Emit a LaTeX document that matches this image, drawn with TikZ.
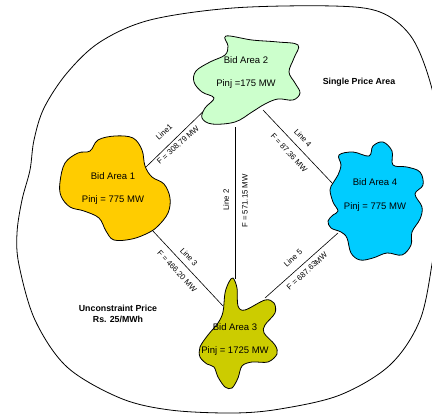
\documentclass[tikz,border=0pt]{standalone}
\usepackage{fontspec}
\setmainfont{Liberation Sans}
\begin{document}
\begin{tikzpicture}[x=1pt,y=-1pt,
  areashape/.style={draw=black,line width=0.8pt,line join=round},
  arealabel/.style={align=center,font=\fontsize{9.5}{11.5}\selectfont},
  tieline/.style={draw=black,line width=0.6pt},
  flowlabel/.style={font=\fontsize{7.8}{9}\selectfont,inner sep=0pt},
  note/.style={font=\bfseries\fontsize{8.8}{11}\selectfont,align=center}]
\clip (0,0) rectangle (432,415);
\fill[white] (0,0) rectangle (432,415);

% boundary of the single price area
\draw[line width=0.8pt] plot[smooth cycle,tension=0.55] coordinates {
  (233,8) (333,6) (380,12) (410,35) (428,75) (440,130) (441,200)
  (433,258) (420,320) (390,365) (340,395) (280,409) (233,413)
  (170,410) (120,398) (67,367) (35,320) (19,265) (17,233) (22,200)
  (30,170) (34,140) (44,108) (67,73) (100,42) (150,20)};

% line end points
\coordinate (l1a) at (146,167);
\coordinate (l1b) at (214,101);
\coordinate (l2a) at (235,127);
\coordinate (l2b) at (235,279);
\coordinate (l3a) at (152,230);
\coordinate (l3b) at (223,306);
\coordinate (l4a) at (263,110);
\coordinate (l4b) at (333,184);
\coordinate (l5a) at (338,233);
\coordinate (l5b) at (265,298);

\draw[tieline] (l1a) -- (l1b);
\draw[tieline] (l2a) -- (l2b);
\draw[tieline] (l3a) -- (l3b);
\draw[tieline] (l4a) -- (l4b);
\draw[tieline] (l5a) -- (l5b);

% Bid Area 1
\filldraw[areashape,fill={rgb,255:red,255;green,204;blue,0}]
  plot[smooth cycle,tension=0.6] coordinates {
  (60,182) (65,163) (78,153) (90,151) (98,140) (115,136) (133,138)
  (142,150) (145,166) (152,177) (164,184) (170,198) (168,213)
  (158,226) (148,233) (132,239) (114,240) (106,231) (99,218)
  (84,211) (70,207) (61,196)};

% Bid Area 2
\filldraw[areashape,fill={rgb,255:red,204;green,255;blue,204}]
  plot[smooth cycle,tension=0.6] coordinates {
  (226,36) (252,40) (278,42) (298,45) (294,58) (289,72) (295,83)
  (300,93) (293,100) (278,99) (265,104) (252,112) (235,122) (212,124)
  (202,118) (205,108) (214,98) (202,92) (194,82) (196,71) (210,62)
  (225,55) (228,46)};

% Bid Area 3
\filldraw[areashape,fill={rgb,255:red,204;green,204;blue,0}]
  plot[smooth cycle,tension=0.55] coordinates {
  (233,278) (237,288) (238,306) (245,310) (265,300) (274,303)
  (275,313) (265,325) (264,333) (275,345) (277,354) (268,362)
  (252,362) (242,366) (238,378) (232,388) (225,387) (218,377)
  (214,367) (207,364) (200,357) (200,347) (208,335) (218,323)
  (223,312) (225,293) (229,282)};

% Bid Area 4
\filldraw[areashape,fill={rgb,255:red,0;green,204;blue,255}]
  plot[smooth cycle,tension=0.6] coordinates {
  (339,155) (353,152) (369,156) (373,146) (383,142) (392,151)
  (393,165) (407,167) (420,172) (423,185) (415,194) (422,207)
  (420,219) (412,232) (411,245) (402,255) (387,253) (373,258)
  (360,260) (351,253) (347,238) (341,232) (331,228) (328,221)
  (333,215) (338,211) (333,202) (330,190) (333,183) (338,175)
  (341,165)};

% area labels
\node[arealabel] (a1) at (113,188.5) {Bid Area 1\\[11.5pt]Pinj = 775 MW};
\node[arealabel] (a2) at (246,72.5) {Bid Area 2\\[11.5pt]Pinj =175 MW};
\node[arealabel] (a3) at (235,339.5) {Bid Area 3\\[11.5pt]Pinj = 1725 MW};
\node[arealabel] (a4) at (375,195) {Bid Area 4\\[12pt]Pinj = 775 MW};

% line labels
\node[flowlabel,rotate=42] (n1) at (164,132) {Line1};
\node[flowlabel,rotate=42] (f1) at (178,145) {F = 308.79 MW};
\node[flowlabel,rotate=90] (n2) at (226,200) {Line 2};
\node[flowlabel,rotate=90] (f2) at (245,201) {F = 571.15 MW};
\node[flowlabel,rotate=-47] (n3) at (189,257) {Line 3};
\node[flowlabel,rotate=-47] (f3) at (177,271) {F = 466.20 MW};
\node[flowlabel,rotate=-47] (n4) at (303,138) {Line 4};
\node[flowlabel,rotate=-47] (f4) at (289,153) {F = 87.36 MW};
\node[flowlabel,rotate=42] (n5) at (293,258) {Line 5};
\node[flowlabel,rotate=42] (f5) at (307,271) {F = 687.63MW};

% area notes
\node[note] (spa) at (359,82) {Single Price Area};
\node[note] (ucp) at (118,313.5) {Unconstraint Price\\Rs. 25/MWh};
\end{tikzpicture}
\end{document}
